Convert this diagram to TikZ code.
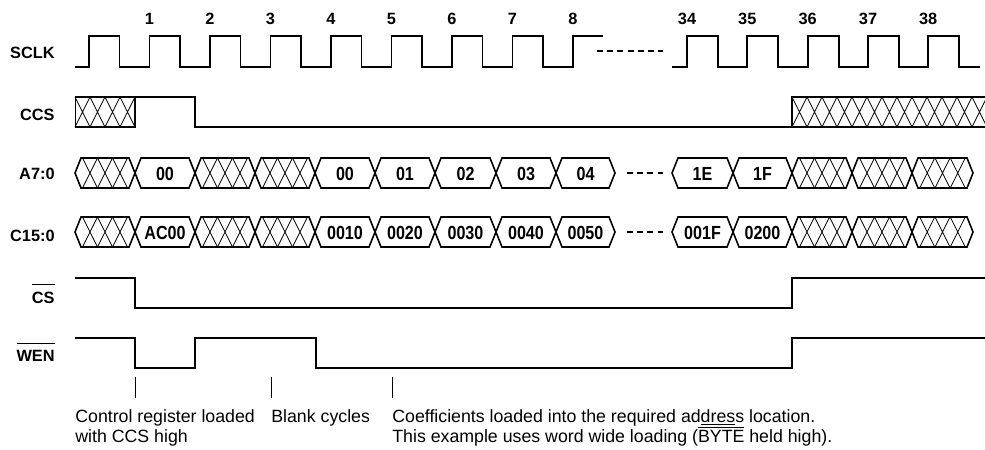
\documentclass[tikz,border=0pt]{standalone}
\usepackage{fontspec}
\setmainfont{Liberation Sans}
\newfontfamily\condfont[FakeStretch=0.85]{Liberation Sans}

\newcommand\ovl[2][3.6pt]{\leavevmode\vbox{\hrule height 0.6pt\kern#1\hbox{#2}}}
\newcommand\buscell[3]{\draw[bus] (#1,#3) -- (#1+6,#3-15) -- (#2-6,#3-15) -- (#2,#3) -- (#2-6,#3+15) -- (#1+6,#3+15) -- cycle;}
\newcommand\busval[5]{\buscell{#1}{#2}{#3}\node[val] (#4) at ({(#1+#2)/2},#3+7) {#5};}
\newcommand\busx[3]{\buscell{#1}{#2}{#3}
  \begin{scope}
    \clip (#1,#3) -- (#1+6,#3-15) -- (#2-6,#3-15) -- (#2,#3) -- (#2-6,#3+15) -- (#1+6,#3+15) -- cycle;
    \foreach \k in {1,2,3}
      \draw[hatch] ({#1+(#2-#1)*\k/4-7.5},#3-15) -- ({#1+(#2-#1)*\k/4+7.5},#3+15)
                   ({#1+(#2-#1)*\k/4-7.5},#3+15) -- ({#1+(#2-#1)*\k/4+7.5},#3-15);
  \end{scope}}

\begin{document}
\begin{tikzpicture}[x=0.02cm,y=-0.02cm,
    sig/.style={line width=1.1pt},
    bus/.style={line width=0.9pt},
    hatch/.style={line width=0.4pt},
    skipline/.style={line width=0.9pt,dash pattern=on 3.4pt off 2.4pt},
    tick/.style={line width=0.5pt},
    lbl/.style={anchor=base east,inner sep=0pt,font=\fontsize{9.3}{11}\selectfont\bfseries},
    num/.style={anchor=base,inner sep=0pt,font=\fontsize{9.3}{11}\selectfont\bfseries},
    val/.style={anchor=base,inner sep=0pt,font=\condfont\fontsize{10.8}{12}\selectfont\bfseries},
    note/.style={anchor=north west,inner sep=0pt,align=left,font=\fontsize{10.1}{11.3}\selectfont}]
\useasboundingbox (0,0) rectangle (985,450);

\node[lbl] (sclk) at (55,58) {SCLK};
\node[lbl] (ccs) at (55,120) {CCS};
\node[lbl] (addr) at (55,179) {A7:0};
\node[lbl] (coef) at (55,241) {C15:0};
\node[lbl] (cs) at (55,303) {\ovl{CS}};
\node[lbl] (wen) at (55,361.5) {\ovl{WEN}};

\foreach \n/\x in {1/149.5,2/210,3/270.5,4/331,5/391.5,6/452,7/512.5,8/573,34/687,35/747.3,36/807.6,37/868,38/928.2}
  \node[num] (clk\n) at (\x,24) {\n};

\draw[sig] (75,67) \foreach \r in {89,149.5,210,270.5,331,391.5,452,512.5} { -- (\r,67) -- (\r,36) -- (\r+30.5,36) -- (\r+30.5,67) } -- (573,67) -- (573,36) -- (603,36);
\draw[skipline] (597,51) -- (663,51);
\draw[sig] (672,67) \foreach \r in {687,747.3,807.6,868,928.2} { -- (\r,67) -- (\r,36) -- (\r+31,36) -- (\r+31,67) } -- (980,67);

\draw[hatch] (75,97) rectangle (135,127);
\foreach \k in {0,...,3}
  \draw[hatch] (75+15*\k,97) -- (90+15*\k,127) (75+15*\k,127) -- (90+15*\k,97);
\draw[sig] (75,97) -- (195,97) -- (195,127) -- (792,127) -- (792,97) -- (985,97);
\draw[sig] (75,127) -- (135,127) -- (135,97);
\draw[sig] (792,127) -- (985,127);
\begin{scope}
  \clip (792,97) rectangle (985,127);
  \foreach \k in {0,...,12}
    \draw[hatch] (792+15*\k,97) -- (807+15*\k,127) (792+15*\k,127) -- (807+15*\k,97);
\end{scope}

\busx{75}{135}{173}
\busval{135}{195}{173}{a1}{00}
\busx{195}{255}{173}
\busx{255}{315}{173}
\busval{315}{375}{173}{a2}{00}
\busval{375}{435}{173}{a3}{01}
\busval{435}{496}{173}{a4}{02}
\busval{496}{556}{173}{a5}{03}
\busval{556}{615}{173}{a6}{04}
\draw[skipline] (627,173) -- (663,173);
\busval{672}{733}{173}{a7}{1E}
\busval{733}{792}{173}{a8}{1F}
\busx{792}{852}{173}
\busx{852}{912}{173}
\busx{912}{973}{173}

\busx{75}{135}{232}
\busval{135}{195}{232}{c1}{AC00}
\busx{195}{255}{232}
\busx{255}{315}{232}
\busval{315}{375}{232}{c2}{0010}
\busval{375}{435}{232}{c3}{0020}
\busval{435}{496}{232}{c4}{0030}
\busval{496}{556}{232}{c5}{0040}
\busval{556}{615}{232}{c6}{0050}
\draw[skipline] (627,232) -- (663,232);
\busval{672}{733}{232}{c7}{001F}
\busval{733}{792}{232}{c8}{0200}
\busx{792}{852}{232}
\busx{852}{912}{232}
\busx{912}{973}{232}

\draw[sig] (75,278) -- (135,278) -- (135,308) -- (792,308) -- (792,278) -- (985,278);
\draw[sig] (75,338) -- (135,338) -- (135,368) -- (195,368) -- (195,338) -- (316,338) -- (316,368) -- (792,368) -- (792,338) -- (985,338);

\draw[tick] (135,377) -- (135,398);
\draw[tick] (271,377) -- (271,398);
\draw[tick] (392,377) -- (392,398);

\node[note] (ctrl) at (75,409) {Control register loaded\\with CCS high};
\node[note] (blank) at (271,409) {Blank cycles};
\node[note] (load) at (392,409) {Coefficients loaded into the required ad\underline{dres}s location.\\This example uses word wide loading (\ovl[1pt]{BYTE} held high).};
\end{tikzpicture}
\end{document}
